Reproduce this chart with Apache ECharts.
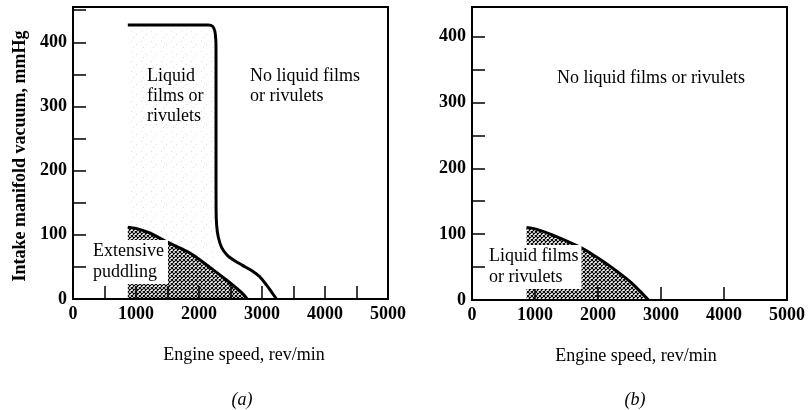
<!DOCTYPE html>
<html>
<head>
<meta charset="utf-8">
<script src="https://cdn.jsdelivr.net/npm/echarts@6/dist/echarts.min.js"></script>
<style>
html,body{margin:0;padding:0;background:#fff;}
#c{width:808px;height:410px;}
</style>
</head>
<body>
<div id="c"></div>
<script>
// ---- data ----
// Panel (a): boundary between "liquid films" and "no liquid films"
const speedBoundaryA  = [870, 2150, 2215, 2250, 2266, 2270, 2270, 2270, 2271, 2280, 2305, 2360, 2450, 2560, 2700, 2840, 2960, 3070, 3150, 3230];
const vacuumBoundaryA = [427,  427,  425,  418,  405,  390,  300,  200,  140,  115,   97,   80,   68,   60,   52,   44,   35,   22,   11,    0];
// Panel (a): extensive puddling boundary
const speedPuddleA  = [870, 1000, 1216, 1532, 1848, 2000, 2164, 2432, 2686, 2765];
const vacuumPuddleA = [112,  110,  103,   87,   72,   62,   50,   30,    9,    0];
// Panel (a): faint texture region (liquid films)
const speedTextureA  = [870, 2262];
const vacuumTextureA = [422,  422];
// Panel (b): liquid films boundary
const speedFilmB  = [865, 1000, 1274, 1698, 1900, 2123, 2350, 2531, 2700, 2800];
const vacuumFilmB = [110,  108,   99,   81,   70,   56,   40,   26,   10,    0];
// tick labels
const speedTickLabels  = [0, 1000, 2000, 3000, 4000, 5000];
const vacuumTickLabels = [0, 100, 200, 300, 400];

const zip = (xs, ys) => xs.map((x, i) => [x, ys[i]]);

// cross-hatch pattern
function hatch() {
  const s = 4, c = document.createElement('canvas');
  c.width = s; c.height = s;
  const g = c.getContext('2d');
  g.strokeStyle = '#000'; g.lineWidth = 1.05;
  g.beginPath();
  for (let k = -2; k <= 2; k++) {
    g.moveTo(k * s - s, -s); g.lineTo(k * s + 2 * s, 2 * s);
    g.moveTo(k * s + 2 * s, -s); g.lineTo(k * s - s, 2 * s);
  }
  g.stroke();
  return c;
}
function faint() {
  const s = 10, c = document.createElement('canvas');
  c.width = s; c.height = s;
  const g = c.getContext('2d');
  g.fillStyle = 'rgba(0,0,0,0.13)';
  g.fillRect(1, 1, 1, 1); g.fillRect(6, 4, 1, 1); g.fillRect(3, 7, 1, 1);
  return c;
}

const FONT = "'Liberation Serif', 'Times New Roman', serif";
const chart = echarts.init(document.getElementById('c'), null, {renderer: 'canvas'});

function yAxisCfg(grid, max) {
  return {
    type: 'value', gridIndex: grid, min: 0, max: max, interval: 50, z: 5,
    axisLine: {show: true, lineStyle: {color: '#000', width: 1.5}},
    axisTick: {show: true, inside: true, length: 13, lineStyle: {color: '#000', width: 1.5}},
    splitLine: {show: false},
    axisLabel: {
      margin: 6, color: '#000', fontFamily: FONT, fontWeight: 'bold', fontSize: 18,
      formatter: v => vacuumTickLabels.indexOf(v) >= 0 ? String(v) : ''
    }
  };
}
function xAxisCfg(grid, interval) {
  return {
    type: 'value', gridIndex: grid, min: 0, max: 5000, interval: interval, z: 5,
    axisLine: {show: true, lineStyle: {color: '#000', width: 2}},
    axisTick: {show: true, inside: true, length: 13, lineStyle: {color: '#000', width: 1.5}},
    splitLine: {show: false},
    axisLabel: {
      margin: 6, color: '#000', fontFamily: FONT, fontWeight: 'bold', fontSize: 18,
      formatter: v => speedTickLabels.indexOf(v) >= 0 ? String(v) : ''
    }
  };
}

const txt = (x, y, text, extra) => Object.assign({
  type: 'text', x: x, y: y, z: 100,
  style: Object.assign({text: text, fill: '#000', font: 'normal 18px ' + FONT}, extra || {})
});

chart.setOption({
  animation: false,
  backgroundColor: '#fff',
  grid: [
    {left: 73, top: 7, width: 315, height: 292, show: true, borderColor: '#000', borderWidth: 2, backgroundColor: 'transparent'},
    {left: 472, top: 7, width: 318, height: 293, show: true, borderColor: '#000', borderWidth: 2, backgroundColor: 'transparent'}
  ],
  xAxis: [xAxisCfg(0, 500), xAxisCfg(1, 1000)],
  yAxis: [yAxisCfg(0, 455), yAxisCfg(1, 445)],
  series: [
    {type: 'line', xAxisIndex: 0, yAxisIndex: 0, data: zip(speedTextureA, vacuumTextureA), symbol: 'none',
     lineStyle: {width: 0, opacity: 0}, areaStyle: {color: {image: faint(), repeat: 'repeat'}, opacity: 1}, z: 1, silent: true},
    {type: 'line', xAxisIndex: 0, yAxisIndex: 0, data: zip(speedPuddleA, vacuumPuddleA), symbol: 'none', smooth: 0.3,
     lineStyle: {color: '#000', width: 3}, areaStyle: {color: {image: hatch(), repeat: 'repeat'}, opacity: 1}, z: 2},
    {type: 'line', xAxisIndex: 0, yAxisIndex: 0, data: zip(speedBoundaryA, vacuumBoundaryA), symbol: 'none', smooth: 0.3,
     lineStyle: {color: '#000', width: 3}, z: 3},
    {type: 'line', xAxisIndex: 1, yAxisIndex: 1, data: zip(speedFilmB, vacuumFilmB), symbol: 'none', smooth: 0.3,
     lineStyle: {color: '#000', width: 3}, areaStyle: {color: {image: hatch(), repeat: 'repeat'}, opacity: 1}, z: 2}
  ],
  graphic: [
    txt(20, 156, 'Intake manifold vacuum, mmHg', {font: 'bold 18px ' + FONT, textAlign: 'center', textVerticalAlign: 'middle'}),
    txt(244, 355, 'Engine speed, rev/min', {textAlign: 'center', textVerticalAlign: 'middle'}),
    txt(636, 356, 'Engine speed, rev/min', {textAlign: 'center', textVerticalAlign: 'middle'}),
    txt(242, 400, '(a)', {font: 'italic 18px ' + FONT, textAlign: 'center', textVerticalAlign: 'middle'}),
    txt(635, 400, '(b)', {font: 'italic 18px ' + FONT, textAlign: 'center', textVerticalAlign: 'middle'}),
    txt(147, 66, 'Liquid\nfilms or\nrivulets', {textAlign: 'left', textVerticalAlign: 'top', lineHeight: 20}),
    txt(250, 66, 'No liquid films\nor rivulets', {textAlign: 'left', textVerticalAlign: 'top', lineHeight: 20}),
    txt(92, 240, 'Extensive\npuddling', {textAlign: 'left', textVerticalAlign: 'top', lineHeight: 21, backgroundColor: '#fff', padding: [1, 4, 1, 1]}),
    txt(557, 78, 'No liquid films or rivulets', {textAlign: 'left', textVerticalAlign: 'middle'}),
    txt(488, 245, 'Liquid films\nor rivulets', {textAlign: 'left', textVerticalAlign: 'top', lineHeight: 21, backgroundColor: '#fff', padding: [1, 3, 1, 1]})
  ]
});
// rotate y title
const opt = chart.getOption();
opt.graphic[0].elements[0].rotation = Math.PI / 2;
chart.setOption({graphic: opt.graphic});
</script>
</body>
</html>
